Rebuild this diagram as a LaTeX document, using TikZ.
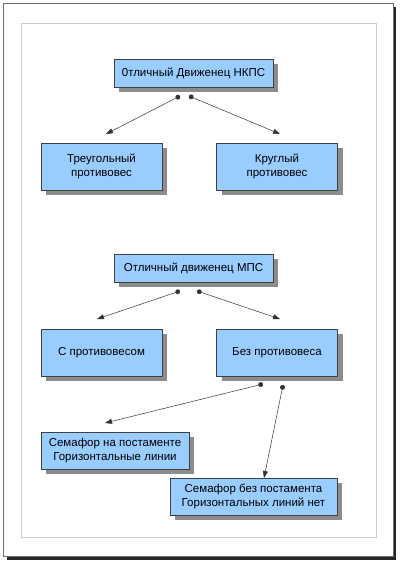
\documentclass[tikz,border=0pt]{standalone}
\usepackage{fontspec}
\setmainfont{Liberation Sans}
\usetikzlibrary{arrows.meta,shadows}
\definecolor{boxblue}{HTML}{99CCFF}
\definecolor{framegray}{HTML}{6E6E6E}
\tikzset{
  blok/.style={draw=black!75, fill=boxblue, align=center, inner sep=0pt,
    font=\fontsize{11.5}{13.5}\selectfont,
    drop shadow={shadow xshift=5pt, shadow yshift=-5pt, fill=black!45, opacity=1}},
  wide/.style={blok, minimum width=159pt, minimum height=28pt},
  mid/.style ={blok, minimum width=121pt, minimum height=47pt},
  pil/.style ={black!80, line width=0.5pt,
    {Circle[length=4.8pt]}-{Triangle[length=7pt,width=5pt]}}
}
\begin{document}
\begin{tikzpicture}[x=1pt,y=-1pt]
   \useasboundingbox (0,0) rectangle (400,563);
 % page
   \fill[black!85] (  7,556) rectangle (396,560);
   \fill[black!85] (393,  7) rectangle (396,560);
   \draw[framegray, line width=0.8pt] (3.5,3.5) rectangle (393,556.5);
   \draw[black!20] ( 21, 23) rectangle (376,537);
 %
   \node[wide] (nkps)    at (193.5, 73.0) {0тличный Движенец НКПС};
   \node[mid ] (treug)   at (101.5,166.5) {Треугольный\\противовес};
   \node[mid ] (krug)    at (277.0,166.5) {Круглый\\противовес};
   \node[wide] (mps)     at (193.5,268.0) {Отличный движенец МПС};
   \node[mid ] (spr)     at (101.5,352.5) {С противовесом};
   \node[mid ] (bezpr)   at (277.0,352.5) {Без противовеса};
   \node[blok, minimum width=148pt, minimum height=37pt]
               (sempost) at (115.0,450.5) {Семафор на постаменте\\Горизонтальные линии};
   \node[blok, minimum width=167pt, minimum height=37pt]
               (sembez)  at (253.5,496.5) {Семафор без постамента\\Горизонтальных линий нет};
 %
   \coordinate (nkpsL)  at (180, 96);  \coordinate (treugT) at (106,134);
   \coordinate (nkpsR)  at (189, 96);  \coordinate (krugT)  at (280,134);
   \coordinate (mpsL)   at (180,291);  \coordinate (sprT)   at ( 97,319);
   \coordinate (mpsR)   at (197,291);  \coordinate (bezprT) at (280,319);
   \coordinate (bezL)   at (263,384);  \coordinate (postT)  at (105,423);
   \coordinate (bezR)   at (283,385);  \coordinate (sembT)  at (264,478);
 %
   \draw[pil] (nkpsL) -- (treugT);
   \draw[pil] (nkpsR) -- (krugT);
   \draw[pil] (mpsL)  -- (sprT);
   \draw[pil] (mpsR)  -- (bezprT);
   \draw[pil] (bezL)  -- (postT);
   \draw[pil] (bezR)  -- (sembT);
\end{tikzpicture}
\end{document}
